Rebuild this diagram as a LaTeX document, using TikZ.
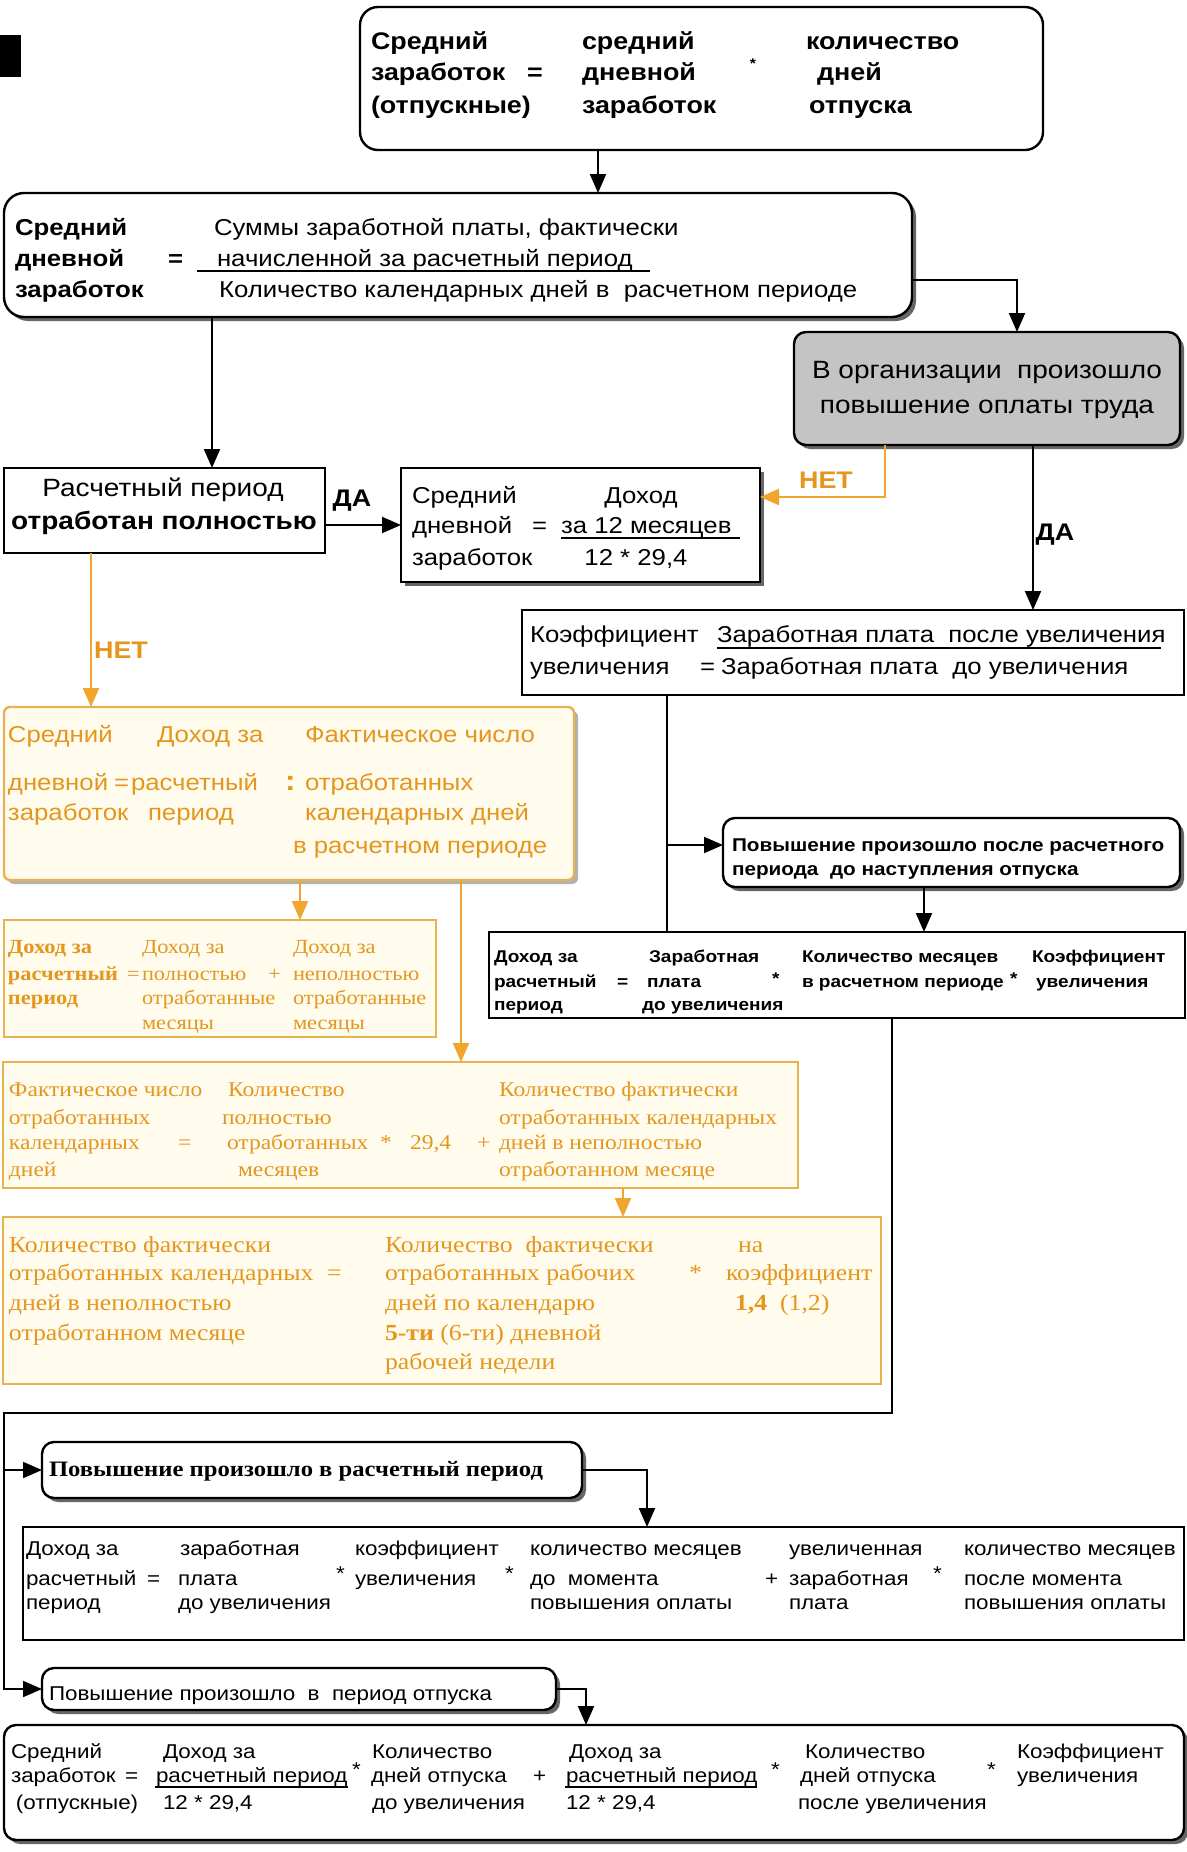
\documentclass[tikz,border=0pt]{standalone}
\usepackage{fontspec}
\setmainfont[FakeStretch=1.12]{Liberation Sans}
\newfontfamily\serf[FakeStretch=1.12]{Liberation Serif}
\usetikzlibrary{arrows.meta,shadows}
\definecolor{org}{RGB}{228,150,30}
\definecolor{orgline}{RGB}{232,178,80}
\definecolor{orgarr}{RGB}{240,165,45}
\definecolor{cream}{RGB}{255,252,238}
\definecolor{grayfill}{RGB}{196,196,196}
\newcounter{tn}
\newcommand\fs[1]{\fontsize{#1}{#1}\selectfont}
\newcommand\Tx[4][]{\stepcounter{tn}\node[tx,#1] (t\thetn) at (#2,-#3) {#4};}
\newcommand\Bx[6][]{\node[bxs,#1,minimum width={#5-#3},minimum height={#6-#4},anchor=north west] (#2) at (#3,-#4) {};}
\begin{document}
\begin{tikzpicture}[x=1pt,y=1pt,
  tx/.style={anchor=base west,inner sep=0pt,outer sep=0pt},
  st/.style={anchor=center,inner sep=0pt,outer sep=0pt},
  bxs/.style={draw,line width=2.4pt,inner sep=0pt,outer sep=0pt,fill=white},
  shad/.style={drop shadow={shadow xshift=4pt,shadow yshift=-4pt,fill=black!60,opacity=1}},
  lshad/.style={drop shadow={shadow xshift=4pt,shadow yshift=-4pt,fill=black!30,opacity=1}},
  obx/.style={draw=orgline,fill=cream,line width=2.4pt},
  ln/.style={line width=2pt},
  arr/.style={line width=2pt,-{Triangle[length=19pt,width=16pt]}},
  oarr/.style={line width=2pt,draw=orgarr,-{Triangle[length=19pt,width=16pt]}}]
\fill[white] (0,0) rectangle (1186,-1852);
\useasboundingbox (0,0) rectangle (1186,-1852);

% ---------- boxes ----------
\Bx[fill=black,draw=none]{blk}{0}{35}{21}{77}
\Bx[rounded corners=18pt]{top}{360}{7}{1043}{150}
\Bx[rounded corners=20pt,shad]{box2}{4}{193}{912}{317}
\Bx[rounded corners=12pt,shad,fill=grayfill]{gray}{794}{332}{1180}{445}
\Bx{rp}{4}{468}{325}{553}
\Bx[shad]{f1}{401}{468}{760}{582}
\Bx{kf}{522}{610}{1184}{695}
\Bx[obx,rounded corners=6pt,lshad]{A}{4}{707}{574}{880}
\Bx[obx]{B}{4}{920}{436}{1037}
\Bx[obx]{C}{3}{1062}{798}{1188}
\Bx[obx]{D}{3}{1217}{881}{1384}
\Bx[rounded corners=12pt,shad]{P1}{723}{818}{1180}{887}
\Bx{Dk}{489}{932}{1185}{1018}
\Bx[rounded corners=12pt,shad]{P2}{42}{1442}{582}{1498}
\Bx{E}{23}{1527}{1184}{1640}
\Bx[rounded corners=12pt,shad]{P3}{42}{1668}{556}{1710}
\Bx[rounded corners=12pt,shad]{F}{4}{1725}{1184}{1840}

% ---------- connectors ----------
\coordinate (g1) at (598,0);
\draw[arr] (top.south -| g1) -- (box2.north -| g1);
\coordinate (g2) at (1017,-280);
\draw[arr] (box2.east |- g2) -| (gray.north -| g2);
\coordinate (g3) at (212,0);
\draw[arr] (box2.south -| g3) -- (rp.north -| g3);
\coordinate (g4) at (0,-525);
\draw[arr] (rp.east |- g4) -- (f1.west |- g4);
\coordinate (g5) at (885,-497);
\draw[oarr] (gray.south -| g5) |- (f1.east |- g5);
\coordinate (g6) at (1033,0);
\draw[arr] (gray.south -| g6) -- (kf.north -| g6);
\coordinate (g7) at (91,0);
\draw[oarr] (rp.south -| g7) -- (A.north -| g7);
\coordinate (g8) at (300,0);
\draw[oarr] (A.south -| g8) -- (B.north -| g8);
\coordinate (g9) at (461,0);
\draw[oarr] (A.south -| g9) -- (C.north -| g9);
\coordinate (g10) at (623,0);
\draw[oarr] (C.south -| g10) -- (D.north -| g10);
\coordinate (g11) at (667,-845);
\draw[ln] (kf.south -| g11) -- (Dk.north -| g11);
\draw[arr] (g11) -- (P1.west |- g11);
\coordinate (g12) at (924,0);
\draw[arr] (P1.south -| g12) -- (Dk.north -| g12);
\coordinate (g13) at (892,-1413);
\coordinate (g14) at (4,-1413);
\draw[arr] (Dk.south -| g13) -- (g13) -- (g14) |- (P3.west);
\draw[arr] (P2.west -| g14) -- (P2.west);
\coordinate (g15) at (647,0);
\draw[arr] (P2.east) -| (E.north -| g15);
\coordinate (g16) at (586,0);
\draw[arr] (P3.east) -| (F.north -| g16);

% ---------- texts ----------
\begin{scope}[every node/.append style={font=\bfseries\fs{24}}]
\Tx{371}{50}{Средний}
\Tx{371}{81}{заработок}
\Tx{527}{81}{=}
\Tx{371}{113}{(отпускные)}
\Tx{582}{50}{средний}
\Tx{582}{81}{дневной}
\Tx{582}{113}{заработок}
\Tx{806}{50}{количество}
\Tx{817}{81}{дней}
\Tx{809}{113}{отпуска}
\Tx[anchor=base]{352}{506}{ДА}
\Tx[anchor=base]{1055}{540}{ДА}
\Tx[anchor=base,text=org]{826}{488}{НЕТ}
\Tx[anchor=base,text=org]{121}{658}{НЕТ}
\end{scope}
\node[st,font=\bfseries\fs{14}] (star0) at (753,-64) {*};

\begin{scope}[every node/.append style={font=\fs{23}}]
\Tx[font=\bfseries\fs{23}]{15}{235}{Средний}
\Tx[font=\bfseries\fs{23}]{15}{266}{дневной}
\Tx[font=\bfseries\fs{23}]{15}{297}{заработок}
\Tx[font=\bfseries\fs{23}]{168}{266}{=}
\Tx{214}{235}{Суммы заработной платы, фактически}
\Tx{217}{266}{начисленной за расчетный период}
\Tx{219}{297}{Количество календарных дней в\ \ расчетном периоде}
\end{scope}
\draw[line width=1.6pt] (197,-271) -- (650,-271);

\begin{scope}[every node/.append style={font=\fs{25}}]
\Tx[anchor=base]{987}{378}{В организации\ \ произошло}
\Tx[anchor=base]{987}{413}{повышение оплаты труда}
\Tx[anchor=base]{163}{496}{Расчетный период}
\Tx[anchor=base,font=\bfseries\fs{25}]{164}{529}{отработан полностью}
\end{scope}

\begin{scope}[every node/.append style={font=\fs{23}}]
\Tx{412}{503}{Средний}
\Tx{412}{533}{дневной}
\Tx{532}{533}{=}
\Tx{412}{565}{заработок}
\Tx[anchor=base]{641}{503}{Доход}
\Tx{561}{533}{за 12 месяцев}
\Tx[anchor=base]{636}{565}{12 * 29,4}
\Tx{530}{642}{Коэффициент}
\Tx{717}{642}{Заработная плата\ \ после увеличения}
\Tx{530}{674}{увеличения}
\Tx{700}{674}{=}
\Tx{721}{674}{Заработная плата\ \ до увеличения}
\end{scope}
\draw[line width=1.6pt] (561,-538) -- (740,-538);
\draw[line width=1.6pt] (717,-648) -- (1161,-648);

% box A
\begin{scope}[every node/.append style={font=\fs{23},text=org}]
\Tx{8}{742}{Средний}
\Tx{157}{742}{Доход за}
\Tx{305}{742}{Фактическое число}
\Tx{8}{790}{дневной}
\Tx{114}{790}{=}
\Tx{131}{790}{расчетный}
\Tx[font=\bfseries\fs{28}]{285}{790}{:}
\Tx{305}{790}{отработанных}
\Tx{8}{820}{заработок}
\Tx{148}{820}{период}
\Tx{305}{820}{календарных дней}
\Tx{293}{853}{в расчетном периоде}
\end{scope}

% box B
\begin{scope}[every node/.append style={font=\serf\fs{20},text=org}]
\Tx[font=\serf\bfseries\fs{20}]{8}{953}{Доход за}
\Tx[font=\serf\bfseries\fs{20}]{8}{980}{расчетный}
\Tx[font=\serf\bfseries\fs{20}]{8}{1004}{период}
\Tx{127}{980}{=}
\Tx{142}{953}{Доход за}
\Tx{142}{980}{полностью}
\Tx{268}{980}{+}
\Tx{142}{1004}{отработанные}
\Tx{142}{1029}{месяцы}
\Tx{293}{953}{Доход за}
\Tx{293}{980}{неполностью}
\Tx{293}{1004}{отработанные}
\Tx{293}{1029}{месяцы}
\end{scope}
% box C
\begin{scope}[every node/.append style={font=\serf\fs{21},text=org}]
\Tx{9}{1096}{Фактическое число}
\Tx{9}{1124}{отработанных}
\Tx{9}{1149}{календарных}
\Tx{178}{1149}{=}
\Tx{9}{1176}{дней}
\Tx{228}{1096}{Количество}
\Tx{222}{1124}{полностью}
\Tx{227}{1149}{отработанных}
\Tx{238}{1176}{месяцев}
\Tx{380}{1149}{*}
\Tx{410}{1149}{29,4}
\Tx{477}{1149}{+}
\Tx{499}{1096}{Количество фактически}
\Tx{499}{1124}{отработанных календарных}
\Tx{499}{1149}{дней в неполностью}
\Tx{499}{1176}{отработанном месяце}
\end{scope}

% box D
\begin{scope}[every node/.append style={font=\serf\fs{23},text=org}]
\Tx{9}{1252}{Количество фактически}
\Tx{9}{1280}{отработанных календарных}
\Tx{327}{1280}{=}
\Tx{9}{1310}{дней в неполностью}
\Tx{9}{1340}{отработанном месяце}
\Tx{385}{1252}{Количество\ \ фактически}
\Tx{385}{1280}{отработанных рабочих}
\Tx{385}{1310}{дней по календарю}
\Tx{385}{1340}{\textbf{5-ти} (6-ти) дневной}
\Tx{385}{1369}{рабочей недели}
\Tx{689}{1280}{*}
\Tx{738}{1252}{на}
\Tx{726}{1280}{коэффициент}
\Tx{735}{1310}{\textbf{1,4}\ \ (1,2)}
\end{scope}

% P1 and Dk
\begin{scope}[every node/.append style={font=\bfseries\fs{18.5}}]
\Tx{732}{851}{Повышение произошло после расчетного}
\Tx{732}{875}{периода\ \ до наступления отпуска}
\end{scope}
\begin{scope}[every node/.append style={font=\bfseries\fs{17}}]
\Tx{494}{962}{Доход за}
\Tx{494}{987}{расчетный}
\Tx{617}{987}{=}
\Tx{494}{1010}{период}
\Tx{649}{962}{Заработная}
\Tx{647}{987}{плата}
\Tx{642}{1010}{до увеличения}
\Tx{772}{984}{*}
\Tx{802}{962}{Количество месяцев}
\Tx{802}{987}{в расчетном периоде}
\Tx{1010}{984}{*}
\Tx{1032}{962}{Коэффициент}
\Tx{1036}{987}{увеличения}
\end{scope}

% P2
\Tx[font=\serf\bfseries\fs{22}]{49}{1476}{Повышение произошло в расчетный период}

% box E
\begin{scope}[every node/.append style={font=\fs{20}}]
\Tx{26}{1555}{Доход за}
\Tx{26}{1585}{расчетный}
\Tx{147}{1585}{=}
\Tx{26}{1609}{период}
\Tx{180}{1555}{заработная}
\Tx{178}{1585}{плата}
\Tx{178}{1609}{до увеличения}
\Tx{336}{1580}{*}
\Tx{355}{1555}{коэффициент}
\Tx{355}{1585}{увеличения}
\Tx{505}{1580}{*}
\Tx{530}{1555}{количество месяцев}
\Tx{530}{1585}{до\ \ момента}
\Tx{530}{1609}{повышения оплаты}
\Tx{765}{1585}{+}
\Tx{789}{1555}{увеличенная}
\Tx{789}{1585}{заработная}
\Tx{789}{1609}{плата}
\Tx{933}{1580}{*}
\Tx{964}{1555}{количество месяцев}
\Tx{964}{1585}{после момента}
\Tx{964}{1609}{повышения оплаты}
% P3
\Tx{49}{1700}{Повышение произошло\ \ в\ \ период отпуска}
% box F
\Tx{11}{1758}{Средний}
\Tx{11}{1782}{заработок}
\Tx{125}{1782}{=}
\Tx{16}{1809}{(отпускные)}
\Tx{163}{1758}{Доход за}
\Tx{156}{1782}{расчетный период}
\Tx{163}{1809}{12 * 29,4}
\Tx{352}{1776}{*}
\Tx{372}{1758}{Количество}
\Tx{371}{1782}{дней отпуска}
\Tx{372}{1809}{до увеличения}
\Tx{533}{1782}{+}
\Tx{569}{1758}{Доход за}
\Tx{566}{1782}{расчетный период}
\Tx{566}{1809}{12 * 29,4}
\Tx{771}{1776}{*}
\Tx{805}{1758}{Количество}
\Tx{800}{1782}{дней отпуска}
\Tx{798}{1809}{после увеличения}
\Tx{987}{1776}{*}
\Tx{1017}{1758}{Коэффициент}
\Tx{1017}{1782}{увеличения}
\end{scope}
\draw[line width=1.6pt] (155,-1787) -- (348,-1787);
\draw[line width=1.6pt] (565,-1787) -- (757,-1787);
\end{tikzpicture}
\end{document}
